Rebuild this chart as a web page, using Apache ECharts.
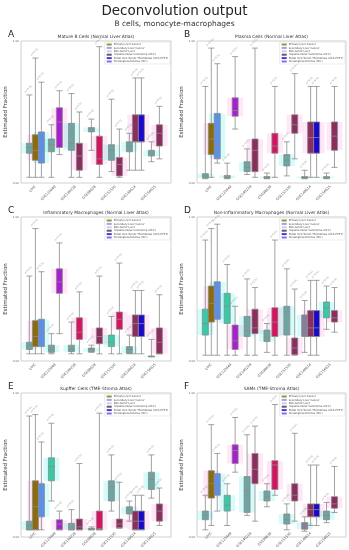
<!DOCTYPE html>
<html><head><meta charset="utf-8">
<script src="https://cdn.jsdelivr.net/npm/echarts@6/dist/echarts.min.js"></script>
<style>html,body{margin:0;padding:0;background:#fff}#c{width:349px;height:550px}</style>
</head><body><div id="c"></div>
<script>
// ---------- data ----------
const categories = ["LIHC", "GSE125449", "GSE140228", "GSE98638", "GSE151530", "GSE149614", "GSE156625"];
const boxesPerCategory = [3, 2, 2, 2, 2, 3, 2];
const legendNames = ["Primary Liver Cancer", "Secondary Liver Cancer", "Non-tumor Liver",
  "Hepatocellular Carcinoma (HCC)", "Portal Vein Tumor Thrombosis (HCC-PVTT)", "Cholangiocarcinoma (ICC)"];
const panelLetters = ["A", "B", "C", "D", "E", "F"];
const panelTitles = ["Mature B Cells (Normal Liver Atlas)", "Plasma Cells (Normal Liver Atlas)",
  "Inflammatory Macrophages (Normal Liver Atlas)", "Non-inflammatory Macrophages (Normal Liver Atlas)",
  "Kupffer Cells (TME-Stroma Atlas)", "SAMs (TME-Stroma Atlas)"];
const annotationText = "p<0.01";

// Panel A
const aLow  = [0.04,0.04,0.04, 0.04,0.20, 0.04,0.04, 0.23,0.04, 0.08,0.04, 0.09,0.09,0.09, 0.15,0.17];
const aQ1   = [0.21,0.16,0.14, 0.22,0.25, 0.23,0.09, 0.36,0.13, 0.16,0.05, 0.22,0.29,0.29, 0.19,0.26];
const aMed  = [0.25,0.23,0.23, 0.27,0.43, 0.28,0.19, 0.38,0.17, 0.23,0.13, 0.26,0.29,0.29, 0.21,0.35];
const aQ3   = [0.28,0.34,0.36, 0.31,0.53, 0.42,0.28, 0.39,0.33, 0.27,0.18, 0.29,0.48,0.48, 0.23,0.41];
const aHigh = [0.62,0.88,0.71, 0.41,0.65, 0.63,0.50, 0.45,0.96, 0.59,0.38, 0.35,0.74,0.74, 0.29,0.54];
// Panel B
const bLow  = [0.03,0.04,0.14, 0.03,0.38, 0.06,0.04, 0.03,0.04, 0.05,0.17, 0.03,0.04,0.04, 0.03,0.11];
const bQ1   = [0.035,0.20,0.17, 0.034,0.47, 0.08,0.08, 0.033,0.21, 0.12,0.35, 0.033,0.21,0.21, 0.033,0.23];
const bMed  = [0.05,0.31,0.27, 0.04,0.51, 0.11,0.23, 0.038,0.26, 0.16,0.41, 0.038,0.32,0.32, 0.038,0.33];
const bQ3   = [0.066,0.42,0.49, 0.053,0.60, 0.15,0.31, 0.045,0.35, 0.20,0.48, 0.045,0.43,0.43, 0.045,0.43];
const bHigh = [0.68,0.95,0.84, 0.14,0.89, 0.24,0.95, 0.07,0.68, 0.29,0.77, 0.09,0.68,0.68, 0.07,0.68];
// Panel C
const cLow  = [0.05,0.05,0.05, 0.05,0.19, 0.05,0.05, 0.06,0.05, 0.05,0.05, 0.05,0.05,0.05, 0.03,0.05];
const cQ1   = [0.08,0.10,0.10, 0.06,0.47, 0.065,0.15, 0.065,0.12, 0.10,0.22, 0.053,0.17,0.17, 0.03,0.05];
const cMed  = [0.11,0.17,0.20, 0.08,0.55, 0.08,0.20, 0.08,0.17, 0.13,0.29, 0.08,0.26,0.26, 0.03,0.13];
const cQ3   = [0.13,0.28,0.29, 0.11,0.64, 0.11,0.30, 0.09,0.23, 0.18,0.34, 0.10,0.32,0.32, 0.035,0.23];
const cHigh = [0.59,0.92,0.62, 0.19,0.82, 0.27,0.48, 0.11,0.59, 0.31,0.68, 0.18,0.49,0.49, 0.15,0.46];
// Panel D
const dLow  = [0.04,0.04,0.04, 0.04,0.04, 0.04,0.04, 0.06,0.04, 0.04,0.04, 0.06,0.04,0.04, 0.22,0.20];
const dQ1   = [0.18,0.27,0.29, 0.26,0.08, 0.17,0.19, 0.135,0.17, 0.18,0.044, 0.17,0.17,0.17, 0.30,0.27];
const dMed  = [0.26,0.40,0.42, 0.38,0.14, 0.21,0.23, 0.165,0.27, 0.34,0.09, 0.23,0.23,0.23, 0.37,0.30];
const dQ3   = [0.36,0.52,0.55, 0.47,0.25, 0.31,0.36, 0.215,0.37, 0.38,0.16, 0.32,0.35,0.35, 0.41,0.35];
const dHigh = [0.84,0.92,0.95, 0.67,0.38, 0.57,0.51, 0.26,0.84, 0.64,0.50, 0.42,0.56,0.56, 0.52,0.51];
// Panel E
const eLow  = [0.05,0.05,0.05, 0.25,0.05, 0.05,0.05, 0.05,0.05, 0.18,0.06, 0.11,0.05,0.05, 0.27,0.08];
const eQ1   = [0.05,0.05,0.14, 0.39,0.05, 0.05,0.05, 0.05,0.05, 0.25,0.065, 0.16,0.05,0.05, 0.33,0.11];
const eMed  = [0.08,0.21,0.26, 0.49,0.09, 0.07,0.07, 0.055,0.06, 0.35,0.09, 0.19,0.11,0.11, 0.40,0.18];
const eQ3   = [0.11,0.39,0.37, 0.55,0.12, 0.095,0.125, 0.06,0.18, 0.39,0.125, 0.21,0.18,0.18, 0.45,0.23];
const eHigh = [0.84,0.85,0.66, 0.79,0.18, 0.19,0.51, 0.07,0.86, 0.57,0.38, 0.25,0.29,0.29, 0.57,0.34];
// Panel F
const fLow  = [0.05,0.08,0.18, 0.08,0.45, 0.15,0.11, 0.21,0.29, 0.05,0.11, 0.04,0.08,0.08, 0.10,0.17];
const fQ1   = [0.12,0.27,0.29, 0.18,0.51, 0.17,0.37, 0.25,0.33, 0.09,0.25, 0.054,0.14,0.14, 0.12,0.20];
const fMed  = [0.15,0.37,0.35, 0.22,0.60, 0.32,0.47, 0.28,0.50, 0.12,0.29, 0.08,0.19,0.19, 0.15,0.23];
const fQ3   = [0.18,0.46,0.44, 0.29,0.64, 0.42,0.58, 0.32,0.53, 0.16,0.37, 0.10,0.23,0.23, 0.18,0.28];
const fHigh = [0.29,0.78,0.58, 0.37,0.83, 0.71,0.77, 0.37,0.92, 0.23,0.72, 0.14,0.50,0.50, 0.24,0.49];

// ---------- styles ----------
const aColors = ['gt','ol','bl','gt','mg','gt','mr','gt','cr','gt','mr','gt','mr','db','gt','mr'];
const bColors = ['gt','ol','bl','gt','mg','gt','mr','gt','cr','gt','mr','gt','mr','db','gt','mr'];
const cColors = ['gt','ol','bl','gt','mg','gt','cr','gt','mr','tl','cr','gt','mr','db','gt','mr'];
const dColors = ['tl','ol','bl','tl','mg','gt','mr','gt','cr','gt','mr','gp','mr','db','tl','mr'];
const eColors = ['gt','ol','bl','tl','mg','gt','mr','gt','cr','gt','mr','gt','mr','db','gt','mr'];
const fColors = ['gt','ol','bl','tl','mg','gt','mr','gt','cr','gt','mr','gp','mr','db','gt','mr'];
const palette = {gt:'#6ea5a2', tl:'#38c9a6', ol:'#8c6a0e', bl:'#5b8fe8', mg:'#a620cf',
                 mr:'#8b2e5e', cr:'#d3145f', db:'#1b08c9', gp:'#8a7c9e'};
const haloCyan = 'rgba(0,235,225,0.17)', haloPink = 'rgba(255,70,190,0.13)';
const haloOf = {gt:haloCyan, tl:haloCyan, bl:haloCyan, gp:haloCyan, ol:haloPink, mg:haloPink, mr:haloPink, cr:haloPink, db:haloPink};
const legendColors = ['#7d7a00', '#8f86f0', '#c4bdf2', '#3b2f55', '#1010c0', '#6a48e0'];

const panels = [
  {low:aLow, q1:aQ1, med:aMed, q3:aQ3, high:aHigh, colors:aColors},
  {low:bLow, q1:bQ1, med:bMed, q3:bQ3, high:bHigh, colors:bColors},
  {low:cLow, q1:cQ1, med:cMed, q3:cQ3, high:cHigh, colors:cColors},
  {low:dLow, q1:dQ1, med:dMed, q3:dQ3, high:dHigh, colors:dColors},
  {low:eLow, q1:eQ1, med:eMed, q3:eQ3, high:eHigh, colors:eColors},
  {low:fLow, q1:fQ1, med:fMed, q3:fQ3, high:fHigh, colors:fColors}
];

// ---------- layout ----------
const FONT = 'DejaVu Sans';
const gLeft = [21, 197, 21, 197, 21, 197];
const gTop = [41, 41, 217, 217, 393, 393];
const gW = [150, 149, 150, 149, 150, 149];
const gH = [142, 142, 144, 144, 144, 144];
const xMin = -0.72, xMax = 6.78;

const positions = [];
boxesPerCategory.forEach((n, k) => {
  const step = n === 3 ? 0.3 : 0.4;
  for (let i = 0; i < n; i++) positions.push(k + (i - (n - 1) / 2) * step);
});

const grids = [], xAxes = [], yAxes = [], series = [], titles = [], legends = [];
titles.push({text:'Deconvolution output', left:'center', top:4, padding:0,
  textStyle:{fontSize:13.5, fontWeight:'normal', color:'#222', fontFamily:FONT}});
titles.push({text:'B cells, monocyte-macrophages', left:'center', top:20, padding:0,
  textStyle:{fontSize:7.5, fontWeight:'normal', color:'#333', fontFamily:FONT}});

panels.forEach((p, pi) => {
  const L = gLeft[pi], T = gTop[pi], W = gW[pi], H = gH[pi];
  const unit = W / (xMax - xMin);
  grids.push({left:L, top:T, width:W, height:H, show:true, borderColor:'#b4b4b4', borderWidth:0.6, backgroundColor:'transparent'});
  grids.push({left:L + (-0.5 - xMin) * unit, top:T, width:7 * unit, height:H, show:false});
  const g0 = 2 * pi, g1 = 2 * pi + 1;
  const xMain = xAxes.length;
  xAxes.push({type:'value', gridIndex:g0, min:xMin, max:xMax, show:false});
  xAxes.push({type:'value', gridIndex:g0, min:xMin, max:xMax, show:false});
  xAxes.push({type:'category', gridIndex:g1, data:categories, boundaryGap:true,
    axisLine:{show:false}, axisTick:{show:false},
    axisLabel:{rotate:45, fontSize:3.4, color:'#555', margin:3, interval:0, fontFamily:FONT}});
  const yMain = yAxes.length;
  yAxes.push({type:'value', gridIndex:g0, min:0, max:1, interval:1,
    axisLine:{show:false}, axisTick:{show:false}, splitLine:{show:false},
    axisLabel:{fontSize:2.8, color:'#666', margin:2, formatter:v => v.toFixed(2), fontFamily:FONT},
    name:'Estimated Fraction', nameLocation:'middle', nameGap:9,
    nameTextStyle:{fontSize:5.5, color:'#333', fontFamily:FONT}});
  yAxes.push({type:'value', gridIndex:g1, min:0, max:1, show:false});

  const items = positions.map((x, i) => [x, p.low[i], p.q1[i], p.med[i], p.q3[i], p.high[i]]);
  series.push({type:'boxplot', xAxisIndex:xMain + 1, yAxisIndex:yMain, boxWidth:[16,16], silent:true, z:1,
    encode:{x:0, y:[1,2,3,4,5]},
    data: items.map((v, i) => ({value:v, itemStyle:{color:haloOf[p.colors[i]], borderWidth:0, borderColor:'transparent'}}))});
  series.push({type:'boxplot', xAxisIndex:xMain, yAxisIndex:yMain, boxWidth:[6,6], z:2,
    encode:{x:0, y:[1,2,3,4,5]},
    itemStyle:{borderColor:'#8a8a8a', borderWidth:0.8},
    data: items.map((v, i) => ({value:v, itemStyle:{color:palette[p.colors[i]]}}))});
  series.push({type:'scatter', xAxisIndex:xMain, yAxisIndex:yMain, symbolSize:0, z:3, silent:true,
    data: positions.map((x, i) => [x, p.high[i]]),
    label:{show:true, formatter:annotationText, rotate:45, position:'top', distance:5,
      fontSize:2.6, color:'#777', fontFamily:FONT}});

  titles.push({text:panelLetters[pi], left:L - 13, top:T - 11, padding:0,
    textStyle:{fontSize:9, fontWeight:'normal', color:'#222', fontFamily:FONT}});
  titles.push({text:panelTitles[pi], left:L + W / 2, textAlign:'center', top:T - 5.8, padding:0,
    textStyle:{fontSize:4.4, fontWeight:'normal', color:'#333', fontFamily:FONT}});
  legends.push({data:legendNames, orient:'vertical', right:349 - (L + W) + 1, top:T + 1,
    itemWidth:5, itemHeight:2, itemGap:0.4, icon:'rect', padding:[1,2], selectedMode:false,
    backgroundColor:'#fff', borderColor:'#cfcfcf', borderWidth:0.4,
    textStyle:{fontSize:2.6, color:'#444', fontFamily:FONT, padding:[0,0,0,-3]}});
});

legendNames.forEach((n, i) => series.push({type:'scatter', name:n, xAxisIndex:0, yAxisIndex:0, data:[],
  itemStyle:{color:legendColors[i]}}));

const chart = echarts.init(document.getElementById('c'));
chart.setOption({animation:false, backgroundColor:'#fff', textStyle:{fontFamily:FONT},
  title:titles, legend:legends, grid:grids, xAxis:xAxes, yAxis:yAxes, series:series});
</script></body></html>
